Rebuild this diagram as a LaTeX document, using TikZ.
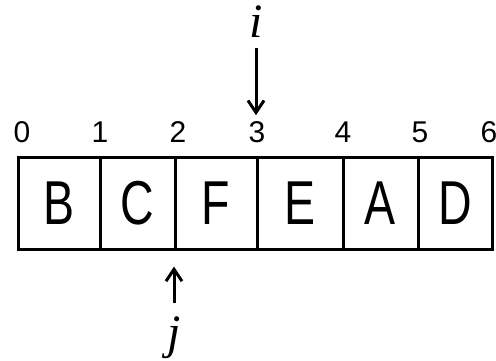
\documentclass[tikz,border=0pt]{standalone}
\usepackage{fontspec}
\setmainfont{Liberation Sans}
\newfontfamily\ptrfont{Liberation Serif}
\usetikzlibrary{arrows.meta}
\begin{document}
\begin{tikzpicture}[x=1pt,y=1pt,
  cell/.style={draw,line width=3pt,minimum height=92pt,inner sep=0pt,
    font=\fontsize{62}{62}\selectfont},
  idx/.style={font=\fontsize{30}{30}\selectfont,inner sep=0pt},
  ptr/.style={font=\ptrfont\itshape\fontsize{48}{48}\selectfont,inner sep=0pt},
  arr/.style={line width=3pt,-{Straight Barb[length=12pt,width=16pt,line width=3pt]}}]
\useasboundingbox (0,0) rectangle (496,360);
\node[cell,minimum width=82pt] (c1) at (59,157) {\scalebox{0.75}[1]{B}};
\node[cell,minimum width=75pt] (c2) at (137.5,157) {\scalebox{0.75}[1]{C}};
\node[cell,minimum width=82pt] (c3) at (216,157) {\scalebox{0.75}[1]{F}};
\node[cell,minimum width=86pt] (c4) at (300,157) {\scalebox{0.75}[1]{E}};
\node[cell,minimum width=75pt] (c5) at (380.5,157) {\scalebox{0.75}[1]{A}};
\node[cell,minimum width=74pt] (c6) at (455,157) {\scalebox{0.75}[1]{D}};
\node[idx] (n0) at (22,228) {0};
\node[idx] (n1) at (100,228) {1};
\node[idx] (n2) at (178,228) {2};
\node[idx] (n3) at (257,228) {3};
\node[idx] (n4) at (343,228) {4};
\node[idx] (n5) at (420,228) {5};
\node[idx] (n6) at (489,228) {6};
\node[ptr] (i) at (256,338) {i};
\node[ptr] (j) at (174,22) {j};
\draw[arr,shorten >=6pt] (256,312) coordinate (is) -- (is |- n3.north);
\draw[arr,shorten >=16pt] (174,57) coordinate (js) -- (js |- c3.south);
\end{tikzpicture}
\end{document}
